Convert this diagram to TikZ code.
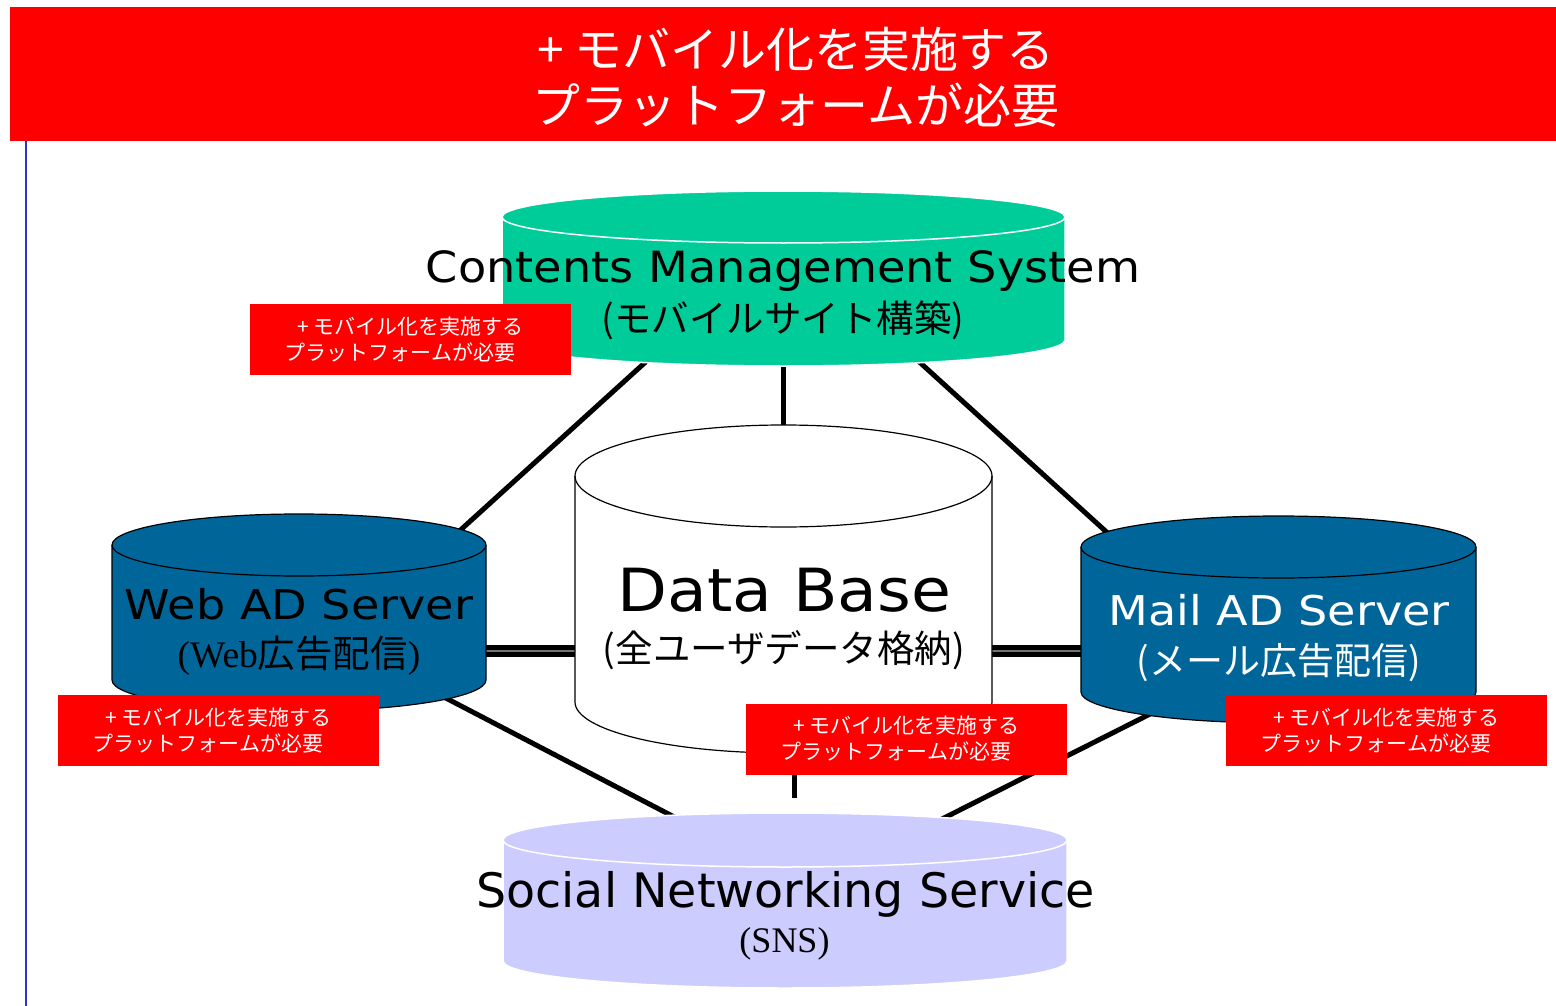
\documentclass[tikz,border=0pt]{standalone}
\usepackage{fontspec}
\newfontfamily\jp{Noto Sans CJK JP}
\newfontfamily\dv{DejaVu Sans}
\newfontfamily\dvcms{DejaVu Sans}[FakeStretch=1.075]
\newfontfamily\dvsrv{DejaVu Sans}[FakeStretch=1.125]
\newfontfamily\dvdb{DejaVu Sans}[FakeStretch=1.09]
\newfontfamily\tm{Liberation Serif}
\definecolor{bannerred}{HTML}{FF0000}
\definecolor{cmsgreen}{HTML}{00CC99}
\definecolor{adblue}{HTML}{006699}
\definecolor{snslav}{HTML}{CCCCFF}
\definecolor{sideblue}{HTML}{3333CC}
\newcommand{\fsz}[2]{\fontsize{#1}{#2}\selectfont}
% cylinder: cx, rx, top-centre y, bottom-centre y, ry, style  (y in pixels, downward)
\newcommand{\mycyl}[6]{%
  \path[#6] (#1-#2,-#3) -- (#1-#2,-#4)
    arc[start angle=180,end angle=360,x radius=#2,y radius=#5]
    -- (#1+#2,-#3)
    arc[start angle=0,end angle=180,x radius=#2,y radius=#5] -- cycle;
  \path[#6,fill=none] (#1-#2,-#3)
    arc[start angle=180,end angle=360,x radius=#2,y radius=#5];
}
\tikzset{
  link/.style={line width=5pt,black},
  dblout/.style={line width=12pt,black},
  dblin/.style={line width=2pt,black!55},
  cylbox/.style={inner sep=0pt,outer sep=0pt,draw=none},
  redbox/.style={fill=bannerred,text=white,inner sep=0pt,minimum width=321pt,
    minimum height=71pt,align=center,font=\jp\fsz{21}{26}},
  lbl/.style={anchor=base,inner sep=0pt},
}
\begin{document}
\begin{tikzpicture}[x=1pt,y=1pt]
\useasboundingbox (0,0) rectangle (1556,-1006);
\fill[white] (0,0) rectangle (1556,-1006);

% banner
\node[fill=bannerred,inner sep=0pt,minimum width=1546pt,minimum height=134pt,anchor=north west] (banner) at (10,-7) {};
\node[text=white,align=center,font=\jp\fsz{48}{56}] (bannertext) at (796,-77) {+ モバイル化を実施する\\プラットフォームが必要};

% side line
\coordinate (sl1) at (25.5,-141);
\coordinate (sl2) at (25.5,-1006);
\draw[sideblue,line width=2pt] (sl1) -- (sl2);

% named shape boxes
\node[cylbox,minimum width=563pt,minimum height=175pt] (cms) at (783.5,-277.5) {};
\node[cylbox,minimum width=374pt,minimum height=195pt] (web) at (299,-612.5) {};
\node[cylbox,minimum width=395pt,minimum height=207pt] (mail) at (1278.5,-618.5) {};
\node[cylbox,minimum width=418pt,minimum height=327pt] (db) at (783.5,-589.5) {};
\node[cylbox,minimum width=564pt,minimum height=175pt] (sns) at (785,-900.5) {};

% connector end points
\coordinate (cmsW) at (650,-358);
\coordinate (webN) at (455,-535);
\coordinate (cmsE) at (915,-358);
\coordinate (mailN) at (1112,-537);
\coordinate (cmsS) at (783,-355);
\coordinate (dbN) at (783,-440);
\coordinate (webS) at (440,-695);
\coordinate (snsW) at (680,-820);
\coordinate (mailS) at (1158,-710);
\coordinate (snsE) at (940,-820);
\coordinate (dbS) at (794,-740);
\coordinate (snsN) at (794,-798);
\coordinate (webE) at (480,-651);
\coordinate (dbW) at (580,-651);
\coordinate (dbE) at (986,-651);
\coordinate (mailW) at (1086,-651);

\draw[link] (cmsW) -- (webN);
\draw[link] (cmsE) -- (mailN);
\draw[link] (cmsS) -- (dbN);
\draw[link] (webS) -- (snsW);
\draw[link] (mailS) -- (snsE);
\draw[link] (dbS) -- (snsN);
\draw[dblout] (webE) -- (dbW);
\draw[dblin] (webE) -- (dbW);
\draw[dblout] (dbE) -- (mailW);
\draw[dblin] (dbE) -- (mailW);

% cylinders
\mycyl{783.5}{281.5}{217}{340}{26}{fill=cmsgreen,draw=white,line width=1.5pt}
\mycyl{299}{187}{545}{680}{31}{fill=adblue,draw=black,line width=1.2pt}
\mycyl{1278.5}{197.5}{547}{692}{31}{fill=adblue,draw=black,line width=1.2pt}
\mycyl{783.5}{208.5}{476}{702}{51}{fill=white,draw=black,line width=1.2pt}
\mycyl{785}{282}{840}{961}{27}{fill=snslav,draw=white,line width=1.5pt}

% labels
\node[lbl,font=\dvcms\fsz{43}{50}] (cmsA) at (783,-282) {Contents Management System};
\node[lbl,font=\jp\fsz{37.5}{44}] (cmsB) at (783,-332) {(モバイルサイト構築)};
\node[lbl,font=\dvsrv\fsz{41}{46}] (webA) at (299,-619) {Web AD Server};
\node[lbl,font=\fsz{37.5}{42}] (webB) at (299,-667) {{\tm(Web}{\jp 広告配信}{\tm)}};
\node[lbl,text=white,font=\dvsrv\fsz{41}{46}] (mailA) at (1279,-625) {Mail AD Server};
\node[lbl,text=white,font=\jp\fsz{37}{42}] (mailB) at (1278.5,-674) {(メール広告配信)};
\node[lbl,font=\dvdb\fsz{59.5}{66}] (dbA) at (784.5,-611) {Data Base};
\node[lbl,font=\jp\fsz{37.5}{42}] (dbB) at (784,-662) {(全ユーザデータ格納)};
\node[lbl,font=\dv\fsz{47.5}{52}] (snsA) at (785.5,-907) {Social Networking Service};
\node[lbl,font=\tm\fsz{36}{40}] (snsB) at (784.5,-952) {(SNS)};

% red notes
\node[redbox] (note1) at (410.5,-339.5) {+ モバイル化を実施する\\プラットフォームが必要\hspace*{1em}};
\node[redbox] (note2) at (218.5,-730.5) {+ モバイル化を実施する\\プラットフォームが必要\hspace*{1em}};
\node[redbox] (note3) at (906.5,-739) {+ モバイル化を実施する\\プラットフォームが必要\hspace*{1em}};
\node[redbox] (note4) at (1386.5,-730.5) {+ モバイル化を実施する\\プラットフォームが必要\hspace*{1em}};
\end{tikzpicture}
\end{document}
